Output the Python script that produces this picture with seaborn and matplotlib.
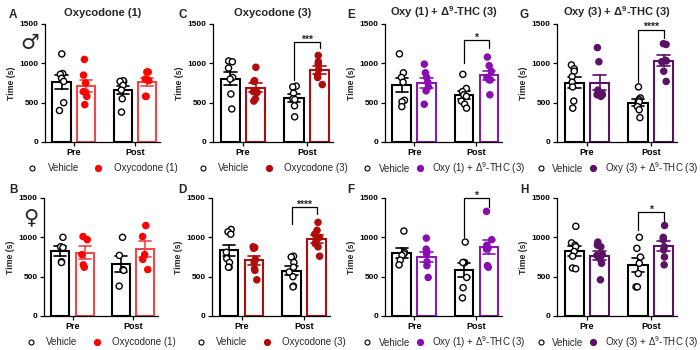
import numpy as np
import pandas as pd
import matplotlib
matplotlib.use("Agg")
import matplotlib.pyplot as plt
import seaborn as sns
from matplotlib.lines import Line2D

sns.set_theme(style="ticks")
plt.rcParams["font.family"] = ["Liberation Sans", "DejaVu Sans"]
plt.rcParams["mathtext.fontset"] = "custom"
plt.rcParams["mathtext.rm"] = "Liberation Sans"
plt.rcParams["mathtext.bf"] = "Liberation Sans:bold"
plt.rcParams["mathtext.default"] = "regular"

times = ["Pre", "Post"]
groups = ["Vehicle", "Drug"]
yticks = [0, 500, 1000, 1500]

# ---- data (Time, s) ----
a_pre_veh = [1120, 870, 860, 810, 770, 500, 400]
a_pre_drug = [1050, 850, 750, 640, 630, 580, 475]
a_post_veh = [770, 780, 770, 720, 660, 550, 380]
a_post_drug = [890, 890, 800, 790, 780, 580, 580]

b_pre_veh = [1000, 880, 870, 690, 680]
b_pre_drug = [1010, 970, 780, 650, 620]
b_post_veh = [1000, 770, 590, 580, 380]
b_post_drug = [1150, 1010, 780, 720, 590]

c_pre_veh = [1030, 1020, 940, 820, 800, 610, 420]
c_pre_drug = [950, 780, 770, 640, 630, 550, 520]
c_post_veh = [710, 700, 620, 550, 540, 460, 320]
c_post_drug = [1100, 1020, 990, 920, 850, 820, 730]

d_pre_veh = [1100, 1070, 1040, 810, 730, 680, 620, 620]
d_pre_drug = [880, 870, 860, 720, 680, 600, 580, 460]
d_post_veh = [760, 750, 680, 620, 560, 500, 380, 370]
d_post_drug = [1190, 1090, 1040, 1000, 960, 920, 880, 760]

e_pre_veh = [1120, 880, 820, 760, 530, 510, 450]
e_pre_drug = [990, 880, 820, 760, 700, 650, 480]
e_post_veh = [860, 680, 640, 600, 580, 520, 480, 430]
e_post_drug = [1080, 970, 900, 820, 790, 790, 600]

f_pre_veh = [1080, 810, 790, 770, 710, 650]
f_pre_drug = [990, 850, 820, 790, 690, 640, 490]
f_post_veh = [940, 680, 680, 680, 490, 360, 230]
f_post_drug = [1330, 970, 900, 860, 850, 640, 620]

g_pre_veh = [980, 930, 900, 830, 760, 700, 520, 430]
g_pre_drug = [1200, 1020, 660, 620, 600, 600, 580]
g_post_veh = [700, 560, 540, 520, 510, 450, 410, 310]
g_post_drug = [1250, 1240, 1040, 1030, 1020, 900, 770]

h_pre_veh = [1140, 930, 900, 880, 820, 760, 610, 600]
h_pre_drug = [940, 900, 880, 780, 770, 730, 670, 460]
h_post_veh = [1000, 860, 750, 670, 540, 370, 370]
h_post_drug = [1150, 1000, 970, 880, 840, 750, 650]

# significance brackets (Post: Vehicle vs Drug)
sig_text = {"C": "***", "D": "****", "E": "*", "F": "*", "G": "****", "H": "*"}
bracket_top = {"C": 1276, "D": 1380, "E": 1297, "F": 1500, "G": 1430, "H": 1317}
bracket_left = {"C": 790, "D": 1167, "E": 1000, "F": 1000, "G": 769, "H": 1095}
bracket_right = {"C": 1190, "D": 1295, "E": 1190, "F": 1380, "G": 1320, "H": 1202}

titles = {"A": "Oxycodone (1)", "C": "Oxycodone (3)",
          "E": "Oxy (1) + \u0394$^{\\mathbf{9}}$-THC (3)",
          "G": "Oxy (3) + \u0394$^{\\mathbf{9}}$-THC (3)"}
drug_labels = {"A": "Oxycodone (1)", "B": "Oxycodone (1)",
               "C": "Oxycodone (3)", "D": "Oxycodone (3)",
               "E": "Oxy (1) + \u0394$^{9}$-THC (3)", "F": "Oxy (1) + \u0394$^{9}$-THC (3)",
               "G": "Oxy (3) + \u0394$^{9}$-THC (3)", "H": "Oxy (3) + \u0394$^{9}$-THC (3)"}
bar_colors = {"A": "#EE4848", "B": "#EE4848", "C": "#A81010", "D": "#A81010",
              "E": "#8A1AB0", "F": "#8A1AB0", "G": "#5A1466", "H": "#5A1466"}
pt_colors = {"A": "#FF0000", "B": "#FF0000", "C": "#B00C0C", "D": "#B00C0C",
             "E": "#8A0DB4", "F": "#8A0DB4", "G": "#5B1264", "H": "#5B1264"}

panel_data = {
    "A": (a_pre_veh, a_pre_drug, a_post_veh, a_post_drug),
    "B": (b_pre_veh, b_pre_drug, b_post_veh, b_post_drug),
    "C": (c_pre_veh, c_pre_drug, c_post_veh, c_post_drug),
    "D": (d_pre_veh, d_pre_drug, d_post_veh, d_post_drug),
    "E": (e_pre_veh, e_pre_drug, e_post_veh, e_post_drug),
    "F": (f_pre_veh, f_pre_drug, f_post_veh, f_post_drug),
    "G": (g_pre_veh, g_pre_drug, g_post_veh, g_post_drug),
    "H": (h_pre_veh, h_pre_drug, h_post_veh, h_post_drug),
}

W, H = 700, 350
fig = plt.figure(figsize=(7, 3.5), dpi=100)
fig.patch.set_facecolor("white")

# axes pixel boxes (left, right, top, bottom)
boxes = {"A": (45, 160, 24, 142), "C": (213, 333, 24, 142),
         "E": (385, 502, 24, 142), "G": (557, 677, 24, 142),
         "B": (44, 158, 198, 316), "D": (212, 330, 198, 316),
         "F": (385, 502, 198, 316), "H": (557, 677, 198, 316)}
letter_pos = {"A": (13, 15), "C": (183, 15), "E": (351, 15), "G": (524, 15),
              "B": (13, 190), "D": (182, 190), "F": (351, 190), "H": (524, 190)}

for i, (key, (pv, pd_, qv, qd)) in enumerate(panel_data.items()):
    l, r, t, b = boxes[key]
    ax = fig.add_axes([l / W, 1 - b / H, (r - l) / W, (b - t) / H])
    rows = []
    for tm, grp, vals in [("Pre", "Vehicle", pv), ("Pre", "Drug", pd_),
                          ("Post", "Vehicle", qv), ("Post", "Drug", qd)]:
        for v in vals:
            rows.append({"time": tm, "group": grp, "value": v})
    df = pd.DataFrame(rows)

    sns.barplot(data=df, x="time", y="value", hue="group", order=times,
                hue_order=groups, palette={"Vehicle": "black", "Drug": bar_colors[key]},
                fill=False, errorbar="se", capsize=0.4, width=0.8, gap=0.25,
                linewidth=1.5, err_kws={"linewidth": 1.2}, legend=False, ax=ax)
    n_before = len(ax.collections)
    np.random.seed(3 + i)
    sns.stripplot(data=df, x="time", y="value", hue="group", order=times,
                  hue_order=groups, palette={"Vehicle": "white", "Drug": pt_colors[key]},
                  dodge=True, jitter=0.09, size=4.4, linewidth=1.0, edgecolor="black",
                  legend=False, ax=ax, zorder=5)
    for coll in ax.collections[n_before:]:
        fc = coll.get_facecolor()
        if len(fc) and fc[0][0] > 0.95 and fc[0][1] > 0.95 and fc[0][2] > 0.95:
            coll.set_edgecolor("black")
        else:
            coll.set_edgecolor(fc)

    ax.set_xlim(-0.47, 1.41)
    ax.set_ylim(0, 1500)
    ax.set_yticks(yticks)
    ax.set_yticklabels([str(v) for v in yticks], fontsize=6, fontweight="bold")
    ax.set_xticks([0, 1])
    ax.set_xticklabels(times, fontsize=6.5, fontweight="bold")
    ax.set_xlabel("")
    ax.set_ylabel("Time (s)", fontsize=6.3, fontweight="bold", labelpad=3)
    ax.tick_params(width=0.9, length=3, pad=1.5, colors="black")
    sns.despine(ax=ax)
    for sp in ["left", "bottom"]:
        ax.spines[sp].set_linewidth(0.9)
        ax.spines[sp].set_color("black")
    ax.set_facecolor("none")

    if key in titles:
        ax.set_title(titles[key], fontsize=8, fontweight="bold", pad=6)

    if key in sig_text:
        x0, x1 = 0.8, 1.2
        yt = bracket_top[key]
        ax.plot([x0, x0, x1, x1], [bracket_left[key], yt, yt, bracket_right[key]],
                color="black", lw=0.9, clip_on=False, zorder=6)
        ax.text(1.0, yt - 10, sig_text[key], ha="center", va="baseline",
                fontsize=7.5, fontweight="bold", clip_on=False)

    h1 = Line2D([], [], marker="o", linestyle="", markerfacecolor="white",
                markeredgecolor="black", markersize=3.6, markeredgewidth=0.8)
    h2 = Line2D([], [], marker="o", linestyle="", color=pt_colors[key], markersize=4.2)
    if key in "ABCD":
        htp, cs = 1.1, 1.5
    else:
        htp, cs = 0.7, 0.5
    ax.legend([h1, h2], ["Vehicle", drug_labels[key]], loc="center",
              bbox_to_anchor=(0.5, -0.22), ncol=2, frameon=False, fontsize=7,
              handlelength=1, handletextpad=htp, columnspacing=cs, borderaxespad=0,
              borderpad=0)

    lx, ly = letter_pos[key]
    fig.text(lx / W, 1 - ly / H, key, fontsize=8.5, fontweight="bold",
             ha="center", va="center")

fig.text(30 / W, 1 - 43 / H, "\u2642", fontsize=15, ha="center", va="center",
         family=["DejaVu Sans"])
fig.text(31 / W, 1 - 217 / H, "\u2640", fontsize=15, ha="center", va="center",
         family=["DejaVu Sans"])

fig.savefig("out.png", dpi=100, facecolor="white")
